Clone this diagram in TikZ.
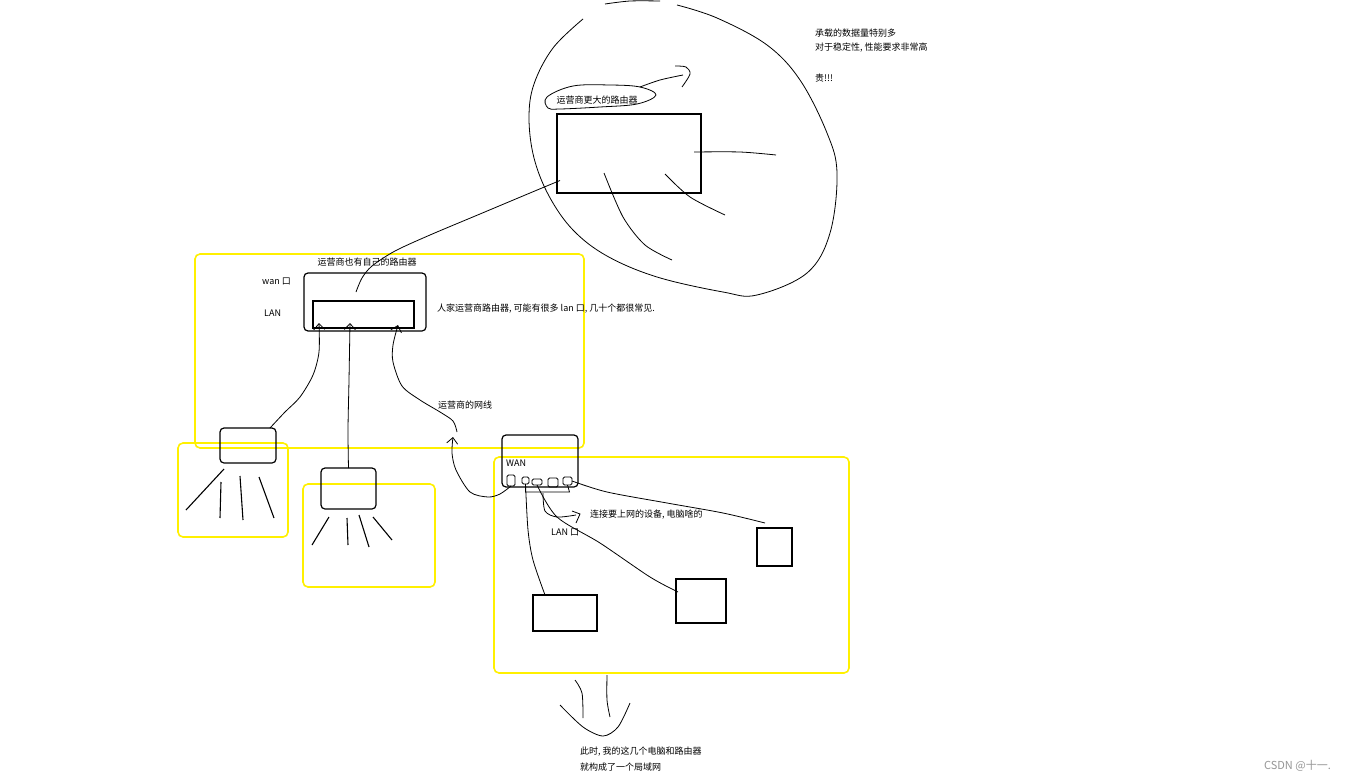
\documentclass[tikz,border=0pt]{standalone}
\usepackage{fontspec}
\newfontfamily\cjk{Noto Sans CJK SC}
\usetikzlibrary{calc, arrows.meta}
\definecolor{hiyellow}{RGB}{255,240,0}
\definecolor{markgray}{RGB}{150,150,150}

\begin{document}
\begin{tikzpicture}[x=1pt, y=-1pt,
  box/.style={draw, line width=1.2pt, inner sep=0pt, outer sep=0pt},
  rbox/.style={box, rounded corners=4pt},
  port/.style={draw, line width=0.9pt, rounded corners=1.5pt, inner sep=0pt, outer sep=0pt},
  pen/.style={line width=0.8pt},
  area/.style={draw=hiyellow, line width=1.6pt, rounded corners=5pt},
  lbl/.style={font=\cjk\fontsize{9}{11}\selectfont, inner sep=0pt},
  tip/.style={-{Straight Barb[length=6pt,width=11pt]}}]
 \fill[white] (0,0) rectangle (1346,781);
 \useasboundingbox (0,0) rectangle (1346,781);
 % yellow areas
 \draw[area] (195,254) rectangle (584,448);
 \draw[area] (178,443) rectangle (288,537);
 \draw[area] (303,484) rectangle (435,587);
 \draw[area] (494,457) rectangle (849,673);
 % the big router and its loop
 \node[box, minimum width=144, minimum height=79] (bigr) at (629,153.5) {};
 \node[lbl] (bigtxt) at (597,100) {运营商更大的路由器};
 \draw[pen] plot[smooth, tension=0.6] coordinates {(583,19) (553,48) (534,84) (529,118) (534,158) (549,196) (573,230) (607,256) (657,277) (723,292) (757,295) (807,273) (830,233) (837,173) (827,133) (800,80) (767,45) (717,18) (677,5)};
 \draw[pen] plot[smooth] coordinates {(605,4) (630,1) (660,1)};
 \draw[pen] plot[smooth] coordinates {(694,152) (740,152) (776,155)};
 \draw[pen] plot[smooth] coordinates {(604,173) (623,217) (645,245) (672,260)};
 \draw[pen] plot[smooth] coordinates {(665,174) (690,197) (725,215)};
 \draw[pen] plot[smooth cycle, tension=0.6] coordinates {(547,97) (573,86) (610,85) (640,87) (656,95) (637,104) (600,107) (560,109) (548,108)};
 \draw[pen] plot[smooth] coordinates {(640,87) (660,80) (683,75)};
 \draw[pen] plot[smooth] coordinates {(675,66) (686,67) (690,74) (682,87)};
 \node[lbl, anchor=west] (much) at (815,33) {承载的数据量特别多};
 \node[lbl, anchor=west] (stable) at (815,48) {对于稳定性, 性能要求非常高};
 \node[lbl, anchor=west] (cost) at (815,78) {贵!!!};
 % the operator's router
 \node[rbox, minimum width=122, minimum height=58] (midr) at (365,302) {};
 \node[box, minimum width=101, minimum height=27] (midin) at (363.5,314.5) {};
 \node[lbl] (midtxt) at (367,262) {运营商也有自己的路由器};
 \node[lbl, anchor=west] (wan) at (262,281) {wan 口};
 \node[lbl, anchor=west] (lan) at (264,313) {LAN};
 \node[lbl, anchor=west] (many) at (437,309) {人家运营商路由器, 可能有很多 lan 口, 几十个都很常见.};
 \node[lbl, anchor=west] (cable) at (438,405) {运营商的网线};
 \draw[pen] plot[smooth] coordinates {($(midin.north)+(-7.5,-9)$) (362,278) (372,266) (395,251) (430,235) (480,214) (530,193) ($(bigr.west)+(3,27)$)};
 % neighbours' routers
 \node[rbox, minimum width=56, minimum height=35] (rtA) at (248,445.5) {};
 \node[rbox, minimum width=55, minimum height=41] (rtB) at (348.5,488.5) {};
 \draw[pen, tip] plot[smooth] coordinates {($(rtA.north east)+(-6,0)$) (285,412) (300,397) (313,375) (319,352) ($(midin.south west)+(6,-5)$)};
 \draw[pen, tip] plot[smooth] coordinates {(rtB.north) (348,430) (349,380) ($(midin.south)+(-13.5,-5)$)};
 \draw[pen, line width=1.1pt] (224,469) -- (186,510) (221,482) -- (220,518) (240,476) -- (243,520) (259,477) -- (274,518);
 \draw[pen, line width=1.1pt] (329,517) -- (312,545) (347,518) -- (348,545) (359,515) -- (369,547) (373,517) -- (392,540);
 % my router
 \node[rbox, minimum width=76, minimum height=52] (home) at (540,461) {};
 \node[lbl, anchor=west] (wanlbl) at (506,463) {WAN};
 \node[port, minimum width=8, minimum height=11] (p1) at (511,480.5) {};
 \node[port, minimum width=7, minimum height=7] (p2) at (525.5,480.5) {};
 \node[port, minimum width=10, minimum height=6] (p3) at (537,482) {};
 \node[port, minimum width=10, minimum height=9] (p4) at (553,482.5) {};
 \node[port, minimum width=9, minimum height=8] (p5) at (567.5,481) {};
 \draw[pen] (p2.south) -- ++(0,8) -- ++(44,0) -- (p5.south);
 \draw[pen, tip] plot[smooth] coordinates {(p1.south) (500,494) (488,497) (470,492) (456,470) (452,453) (453,437)};
 \draw[pen, tip] plot[smooth] coordinates {(457,432) (453,421) (440,412) (420,400) (402,386) (393,362) (393,345) ($(midin.south east)+(-16,-3)$)};
 \draw[pen] plot[smooth] coordinates {(543,493) (545,511) (557,517) (576,515)};
 \draw[pen] (572,511) -- (580,514) -- (576,523);
 \node[lbl, anchor=west] (conn) at (590,515) {连接要上网的设备, 电脑啥的};
 \node[lbl, anchor=west] (lanport) at (551,532) {LAN 口};
 % devices
 \node[box, minimum width=64, minimum height=36] (dev1) at (565,613) {};
 \node[box, minimum width=50, minimum height=44] (dev2) at (701,601) {};
 \node[box, minimum width=35, minimum height=38] (dev3) at (774.5,547) {};
 \draw[pen] plot[smooth] coordinates {(p2.south) (528,530) (533,560) ($(dev1.north west)+(12,0)$)};
 \draw[pen] plot[smooth] coordinates {(p3.south) (557,517) (600,543) (650,577) ($(dev2.west)+(2,-9)$)};
 \draw[pen] plot[smooth] coordinates {(p5.east) (607,492) (667,503) (723,513) ($(dev3.north west)+(8,-5)$)};
 % it is a LAN now
 \draw[pen] plot[smooth] coordinates {(575,680) (582,693) (583,718)};
 \draw[pen] plot[smooth] coordinates {(607,675) (607,700) (610,717)};
 \draw[pen] plot[smooth] coordinates {(560,705) (583,727) (603,736) (618,727) (630,703)};
 \node[lbl, anchor=west] (now) at (580,752) {此时, 我的这几个电脑和路由器};
 \node[lbl, anchor=west] (lanwide) at (580,767) {就构成了一个局域网};
 \node[lbl, anchor=east, text=markgray, font=\cjk\fontsize{11}{13}\selectfont] (mark) at (1331,766) {CSDN @十一.};
\end{tikzpicture}
\end{document}
